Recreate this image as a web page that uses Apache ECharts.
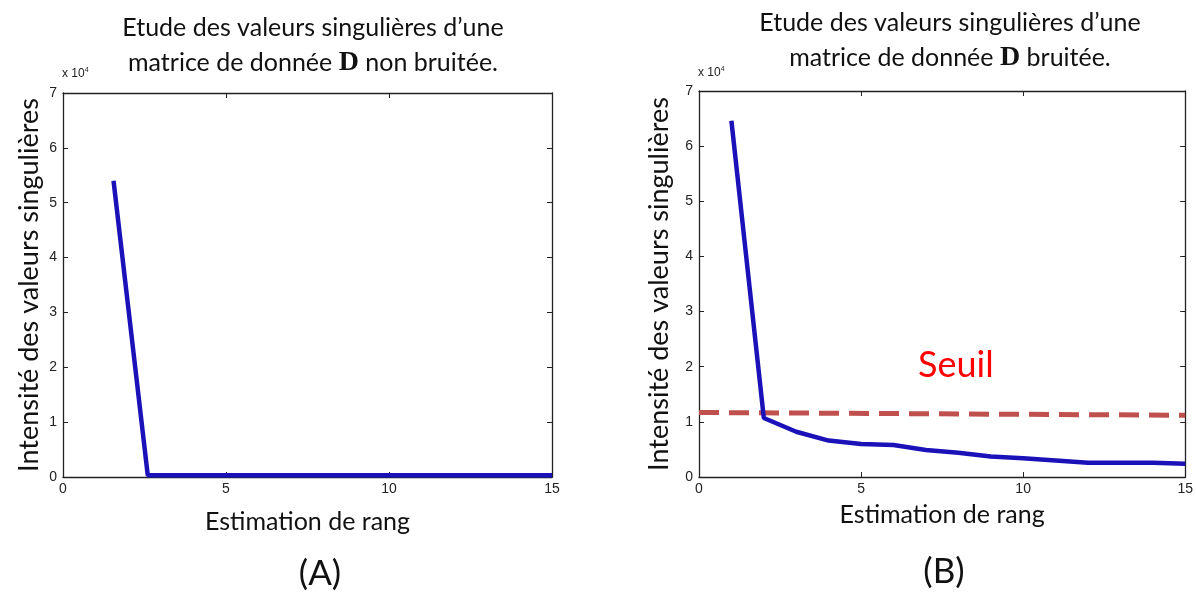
<!DOCTYPE html>
<html>
<head>
<meta charset="utf-8">
<script src="https://cdn.jsdelivr.net/npm/echarts@6/dist/echarts.min.js"></script>
<style>
  html, body { margin: 0; padding: 0; background: #fff; }
  #chart { width: 1196px; height: 592px; }
</style>
</head>
<body>
<div id="chart"></div>
<script>
// Singular values of a clean data matrix (A) and a noisy one (B)
const xTicks = [0, 5, 10, 15];
const yTicks = [0, 1, 2, 3, 4, 5, 6, 7];

// (A) clean matrix: [rank position, singular value]
const cleanRank = [1.55, 2.6, 15];
const cleanValues = [54000, 300, 300];

// (B) noisy matrix
const noisyRank = [1, 2, 3, 4, 5, 6, 7, 8, 9, 10, 11, 12, 13, 14, 15];
const noisyValues = [64600, 10700, 8200, 6600, 6000, 5800, 4900, 4400, 3700, 3400, 3000, 2600, 2600, 2600, 2400];

// threshold drawn across (B)
const seuilRank = [0, 15];
const seuilValues = [11700, 11200];

const titleA = ['Etude des valeurs singulières d’une', 'matrice de donnée {d|D} non bruitée.'];
const titleB = ['Etude des valeurs singulières d’une', 'matrice de donnée {d|D} bruitée.'];
const xName = 'Estimation de rang';
const yName = 'Intensité des valeurs singulières';

const pairs = (xs, ys) => xs.map((x, i) => [x, ys[i]]);

const tickFont = { fontFamily: 'Liberation Sans', fontSize: 14, color: '#222' };
const textFont = 'Lato';

function xAxes(gridIndex, gap) {
  const base = {
    type: 'value', gridIndex, min: 0, max: 15, interval: 5,
    splitLine: { show: false },
    axisLine: { show: true, onZero: false, lineStyle: { color: '#222', width: 1.3 } },
    axisTick: { show: true, inside: true, length: 5, lineStyle: { color: '#222' } }
  };
  return [
    Object.assign({}, base, {
      position: 'bottom',
      axisLabel: Object.assign({ margin: 5 }, tickFont),
      name: xName, nameLocation: 'middle', nameGap: gap,
      nameTextStyle: { fontFamily: textFont, fontSize: 25, color: '#111' }
    }),
    Object.assign({}, base, { position: 'top', axisLabel: { show: false } })
  ];
}

function yAxes(gridIndex, gap) {
  const base = {
    type: 'value', gridIndex, min: 0, max: 70000, interval: 10000,
    splitLine: { show: false },
    axisLine: { show: true, onZero: false, lineStyle: { color: '#222', width: 1.3 } },
    axisTick: { show: true, inside: true, length: 5, lineStyle: { color: '#222' } }
  };
  return [
    Object.assign({}, base, {
      position: 'left',
      axisLabel: Object.assign({ margin: 6, formatter: v => String(v / 10000) }, tickFont),
      name: yName, nameLocation: 'middle', nameGap: gap, nameRotate: 90,
      nameTextStyle: { fontFamily: textFont, fontSize: 27, color: '#111' }
    }),
    Object.assign({}, base, { position: 'right', axisLabel: { show: false } })
  ];
}

const titleRich = {
  d: { fontFamily: 'Liberation Serif', fontWeight: 'bold', fontSize: 28, color: '#111' }
};

function titleBlock(lines, cx, top) {
  return {
    text: lines.join('\n'),
    left: cx, top: top, textAlign: 'center',
    textStyle: { fontFamily: textFont, fontSize: 25, fontWeight: 'normal', color: '#111', lineHeight: 35, rich: titleRich }
  };
}

const supRich = { s: { fontSize: 7, verticalAlign: 'top', padding: [0, 0, 7, 0] } };

const chart = echarts.init(document.getElementById('chart'), null, { renderer: 'canvas' });

chart.setOption({
  animation: false,
  backgroundColor: '#fff',
  title: [titleBlock(titleA, 308, 5), titleBlock(titleB, 945, 0)],
  grid: [
    { left: 63, top: 93, width: 489, height: 384 },
    { left: 699, top: 91, width: 492, height: 386 }
  ],
  xAxis: [...xAxes(0, 32), ...xAxes(1, 25)],
  yAxis: [...yAxes(0, 20), ...yAxes(1, 26)],
  series: [
    {
      type: 'line', xAxisIndex: 0, yAxisIndex: 0,
      data: pairs(cleanRank, cleanValues),
      showSymbol: false, lineStyle: { color: '#1a12b8', width: 4.5 }
    },
    {
      type: 'line', xAxisIndex: 2, yAxisIndex: 2,
      data: pairs(seuilRank, seuilValues),
      showSymbol: false, lineStyle: { color: '#c0504d', width: 5, type: [20, 10] }
    },
    {
      type: 'line', xAxisIndex: 2, yAxisIndex: 2,
      data: pairs(noisyRank, noisyValues),
      showSymbol: false, lineStyle: { color: '#1a12b8', width: 4.5 }
    }
  ],
  graphic: [
    { type: 'text', left: 62, top: 67, style: { text: 'x 10{s|4}', fontFamily: 'Liberation Sans', fontSize: 12, fill: '#222', rich: supRich } },
    { type: 'text', left: 698, top: 66, style: { text: 'x 10{s|4}', fontFamily: 'Liberation Sans', fontSize: 12, fill: '#222', rich: supRich } },
    { type: 'text', left: 918, top: 347, style: { text: 'Seuil', fontFamily: textFont, fontSize: 36, fill: '#ff0000' } },
    { type: 'text', x: 320, y: 574, style: { text: '(A)', fontFamily: textFont, fontSize: 35, fill: '#111', textAlign: 'center', textVerticalAlign: 'middle' } },
    { type: 'text', x: 944, y: 572, style: { text: '(B)', fontFamily: textFont, fontSize: 35, fill: '#111', textAlign: 'center', textVerticalAlign: 'middle' } }
  ]
});
</script>
</body>
</html>
